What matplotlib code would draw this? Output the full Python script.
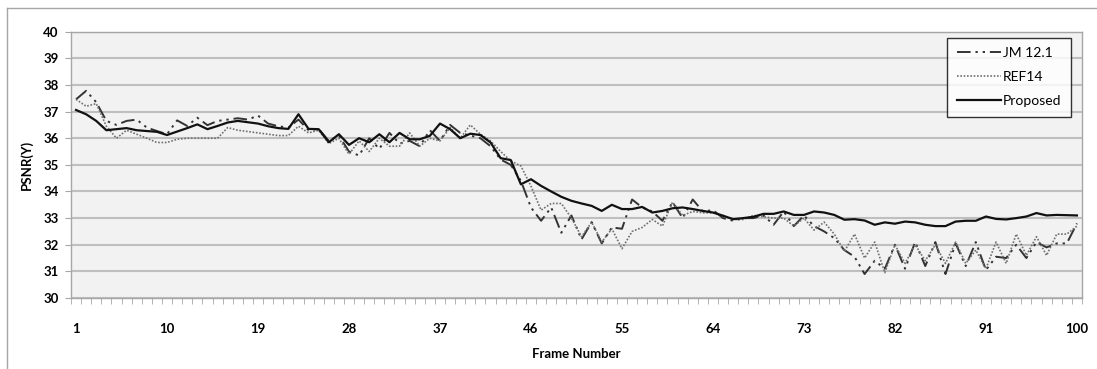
import matplotlib.pyplot as plt
from matplotlib.lines import Line2D

frames = list(range(1, 101))

jm = [37.46, 37.78, 37.35, 36.65, 36.5, 36.65, 36.7, 36.4, 36.27, 36.15,
      36.67, 36.46, 36.77, 36.49, 36.65, 36.7, 36.75, 36.7, 36.85, 36.55,
      36.45, 36.4, 36.7, 36.3, 36.35, 35.9, 36.1, 35.5, 35.35, 36.0,
      35.6, 36.2, 35.8, 35.9, 35.7, 36.3, 35.9, 36.5, 36.2, 36.1,
      36.0, 35.7, 35.2, 35.0, 34.4, 33.4, 32.9, 33.4, 32.45, 33.1,
      32.2, 32.85, 32.05, 32.65, 32.6, 33.7, 33.4, 33.25, 32.9, 33.6,
      33.0, 33.7, 33.25, 33.3, 33.0, 32.9, 33.0, 33.0, 33.1, 32.75,
      33.25, 32.7, 33.1, 32.7, 32.5, 32.25, 31.8, 31.55, 30.9, 31.4,
      31.1, 32.0, 31.1, 32.1, 31.2, 32.1, 30.9, 32.05, 31.2, 32.1,
      31.05, 31.55, 31.5, 32.0, 31.5, 32.1, 31.9, 32.05, 32.05, 32.8]

ref14 = [37.46, 37.2, 37.3, 36.45, 36.0, 36.3, 36.15, 36.0, 35.84, 35.84,
         35.96, 36.0, 36.0, 36.0, 36.0, 36.4, 36.3, 36.25, 36.2, 36.15,
         36.1, 36.1, 36.45, 36.2, 36.3, 35.8, 36.0, 35.4, 35.9, 35.5,
         36.0, 35.7, 35.7, 36.2, 35.7, 36.0, 35.9, 36.4, 36.0, 36.5,
         36.15, 35.9, 35.5, 35.15, 34.96, 34.2, 33.3, 33.55, 33.55, 33.0,
         32.3, 32.85, 32.1, 32.6, 31.85, 32.5, 32.65, 32.95, 32.7, 33.6,
         33.1, 33.25, 33.2, 33.2, 33.1, 32.95, 32.95, 33.1, 33.05, 33.0,
         33.0, 32.7, 33.0, 32.55, 32.85, 32.4, 31.75, 32.4, 31.5, 32.1,
         30.95, 32.0, 31.3, 32.0, 31.4, 32.0, 31.3, 32.1, 31.3, 31.8,
         31.1, 32.1, 31.3, 32.4, 31.6, 32.3, 31.6, 32.4, 32.4, 32.7]

proposed = [37.06, 36.9, 36.65, 36.3, 36.34, 36.38, 36.3, 36.27, 36.24, 36.12,
            36.25, 36.38, 36.52, 36.34, 36.46, 36.59, 36.65, 36.6, 36.55, 36.45,
            36.38, 36.35, 36.9, 36.35, 36.34, 35.85, 36.15, 35.75, 36.0, 35.85,
            36.15, 35.85, 36.2, 35.96, 35.96, 36.09, 36.55, 36.34, 36.0, 36.17,
            36.12, 35.84, 35.25, 35.18, 34.27, 34.46, 34.21, 34.0, 33.8, 33.65,
            33.55, 33.46, 33.27, 33.5, 33.34, 33.34, 33.42, 33.21, 33.27, 33.37,
            33.4, 33.34, 33.27, 33.21, 33.09, 32.96, 33.0, 33.05, 33.16, 33.16,
            33.25, 33.12, 33.12, 33.25, 33.21, 33.12, 32.94, 32.96, 32.91, 32.75,
            32.84, 32.79, 32.87, 32.84, 32.75, 32.7, 32.7, 32.87, 32.9, 32.9,
            33.06, 32.97, 32.95, 33.0, 33.06, 33.19, 33.1, 33.12, 33.11, 33.1]

xtick_labels = [1, 10, 19, 28, 37, 46, 55, 64, 73, 82, 91, 100]
yticks = list(range(30, 41))

plt.rcParams['font.family'] = ['Lato', 'DejaVu Sans']
FS = 9.5

fig = plt.figure(figsize=(10.97, 3.69), dpi=100)
ax = fig.add_axes([0.0647, 0.1924, 0.9216, 0.7217])
ax.set_facecolor('#f2f2f2')

# outer chart border (top and left only visible)
fig.add_artist(Line2D([7 / 1097, 7 / 1097], [0, 1 - 8 / 369], color='#a6a6a6', lw=1))
fig.add_artist(Line2D([7 / 1097, 1], [1 - 8 / 369, 1 - 8 / 369], color='#a6a6a6', lw=1))

jm_style = (0, (7, 2.5, 1.2, 2.5, 1.2, 2.5))
ax.plot(frames, jm, color='#333333', lw=1.4, linestyle=jm_style, label='JM 12.1')
ax.plot(frames, ref14, color='#707070', lw=1.2, linestyle=(0, (1, 1)), label='REF14')
ax.plot(frames, proposed, color='#111111', lw=1.6, label='Proposed')

ax.set_xlim(0.5, 100.5)
ax.set_ylim(30, 40)
ax.set_yticks(yticks)
ax.grid(axis='y', color='#bfbfbf', lw=1.5)
ax.set_axisbelow(True)

ax.set_xticks(xtick_labels)
ax.set_xticklabels([str(v) for v in xtick_labels], fontweight='bold', fontsize=FS)
ax.set_xticks([f + 0.5 for f in range(0, 101)], minor=True)
ax.tick_params(axis='x', which='major', length=0, pad=18)
ax.tick_params(axis='x', which='minor', length=4, color='#a6a6a6', direction='out')
ax.tick_params(axis='y', length=4, color='#a6a6a6', pad=5)
for lab in ax.get_yticklabels():
    lab.set_fontweight('bold')
    lab.set_fontsize(FS)

for s in ax.spines.values():
    s.set_color('#a6a6a6')
    s.set_linewidth(1)

ax.set_xlabel('Frame Number', fontweight='bold', fontsize=FS, labelpad=9)
ax.set_ylabel('PSNR(Y)', fontweight='bold', fontsize=FS, labelpad=7)

leg = ax.legend(loc='upper right', bbox_to_anchor=(0.9891, 0.978), fontsize=10,
                frameon=True, fancybox=False, handlelength=3.2, handletextpad=0.1,
                borderpad=0.7, labelspacing=0.85, borderaxespad=0)
leg.get_frame().set_edgecolor('#000000')
leg.get_frame().set_linewidth(1)

fig.savefig('out.png', dpi=100)
